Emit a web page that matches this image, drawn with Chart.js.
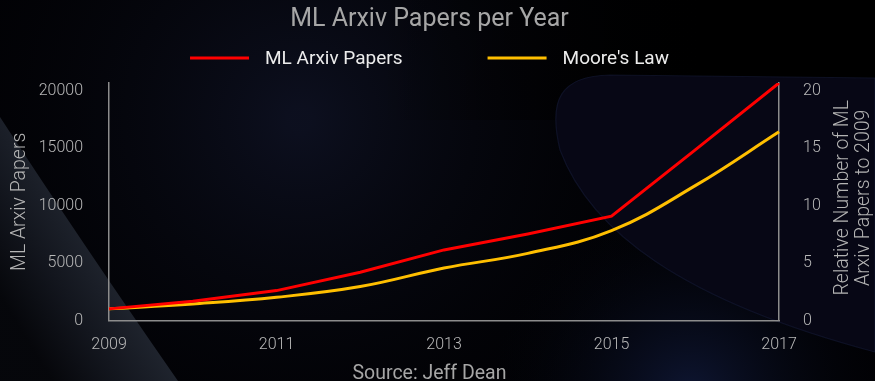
<!DOCTYPE html>
<html>
<head>
<meta charset="utf-8">
<script src="https://cdn.jsdelivr.net/npm/chart.js@4.4.1/dist/chart.umd.min.js"></script>
<style>
	html, body { margin: 0; padding: 0; background: #000; }
	#wrap { width: 875px; height: 381px; }
</style>
</head>
<body>
<div id="wrap"><canvas id="chart" width="875" height="381"></canvas></div>
<script>
// values
const years = ['2009', '2010', '2011', '2012', '2013', '2014', '2015', '2016', '2017'];
const ml_papers = [1020, 1680, 2610, 4200, 6150, 7540, 9090, 14850, 20670];
const moores_law = [1.02, 1.45, 2.03, 2.96, 4.57, 5.85, 7.83, 11.74, 16.43];
const left_ticks = [0, 5000, 10000, 15000, 20000];
const right_ticks = [0, 5, 10, 15, 20];

const FONT = 'Roboto, "Liberation Sans", sans-serif';
const RED = '#ff0000';
const GOLD = '#ffbf00';
const AXIS = '#8c8c8c';
const PAD_RIGHT = 16;
// the plot runs up to the top of the papers line, both axes share it
const top_papers = Math.max(...ml_papers);

const background = {
	id: 'background',
	beforeDraw (chart) {
		let ctx = chart.ctx;
		let w = chart.width, h = chart.height;
		ctx.save();
		ctx.fillStyle = '#010104';
		ctx.fillRect(0, 0, w, h);
		// navy haze on the left half
		let g = ctx.createRadialGradient(300, 120, 10, 300, 120, 430);
		g.addColorStop(0, 'rgba(13,16,32,0.95)');
		g.addColorStop(1, 'rgba(0,0,0,0)');
		ctx.fillStyle = g;
		ctx.fillRect(0, 0, w, h);
		// black top right
		g = ctx.createLinearGradient(380, 0, 700, 0);
		g.addColorStop(0, 'rgba(0,0,0,0)');
		g.addColorStop(1, 'rgba(0,0,0,1)');
		ctx.fillStyle = g;
		ctx.fillRect(380, 0, 495, 120);
		// blue glow under the plot on the right
		g = ctx.createRadialGradient(690, 395, 10, 690, 395, 220);
		g.addColorStop(0, 'rgba(18,28,64,0.7)');
		g.addColorStop(1, 'rgba(0,0,0,0)');
		ctx.fillStyle = g;
		ctx.fillRect(0, 0, w, h);
		// darker wedge bottom left, lit along its edge
		ctx.beginPath();
		ctx.moveTo(0, 117);
		ctx.quadraticCurveTo(80, 240, 178, 381);
		ctx.lineTo(0, 381);
		ctx.closePath();
		g = ctx.createLinearGradient(105, 265, 15, 320);
		g.addColorStop(0, 'rgba(32,37,47,0.95)');
		g.addColorStop(0.5, 'rgba(19,22,30,0.95)');
		g.addColorStop(1, 'rgba(6,7,11,0.95)');
		ctx.fillStyle = g;
		ctx.fill();
		// big rounded shape on the right
		ctx.beginPath();
		ctx.moveTo(875, 78);
		ctx.lineTo(610, 75);
		ctx.bezierCurveTo(560, 76, 548, 100, 560, 150);
		ctx.bezierCurveTo(590, 230, 680, 300, 875, 352);
		ctx.closePath();
		ctx.fillStyle = 'rgba(7,7,22,0.97)';
		ctx.fill();
		ctx.strokeStyle = 'rgba(24,30,60,0.5)';
		ctx.lineWidth = 1.2;
		ctx.stroke();
		ctx.restore();
	}
};

// legend drawn by hand so the gap between the two entries can be wide
const line_legend = {
	id: 'line_legend',
	afterDraw (chart) {
		let ctx = chart.ctx;
		let y = 58;
		ctx.save();
		ctx.font = '400 19px ' + FONT;
		ctx.textBaseline = 'middle';
		ctx.textAlign = 'left';
		let items = chart.data.datasets.map(ds => ({
			text: ds.label,
			color: ds.borderColor,
			width: 59 + 16 + ctx.measureText(ds.label).width
		}));
		let total = items.reduce((s, it) => s + it.width, 0) + 85 * (items.length - 1);
		let x = (chart.width - PAD_RIGHT) / 2 - total / 2;
		items.forEach(it => {
			ctx.fillStyle = it.color;
			ctx.fillRect(x, y - 1.5, 59, 3);
			ctx.fillStyle = '#ececec';
			ctx.fillText(it.text, x + 75, y + 1);
			x += it.width + 85;
		});
		ctx.restore();
	}
};

const right_title = {
	id: 'right_title',
	afterDraw (chart) {
		let ctx = chart.ctx;
		let area = chart.chartArea;
		let cy = (area.top + area.bottom) / 2 - 4;
		ctx.save();
		ctx.fillStyle = '#b4b4b4';
		ctx.font = '300 19.5px ' + FONT;
		ctx.textAlign = 'center';
		ctx.textBaseline = 'middle';
		[['Relative Number of ML', 843], ['Arxiv Papers to 2009', 864]].forEach(([text, x]) => {
			ctx.save();
			ctx.translate(x, cy);
			ctx.rotate(-Math.PI / 2);
			ctx.fillText(text, 0, 0);
			ctx.restore();
		});
		ctx.restore();
	}
};

const tick_font = { family: FONT, size: 16, weight: 300 };

new Chart(document.getElementById('chart'), {
	type: 'line',
	data: {
		labels: years,
		datasets: [
			{
				label: 'ML Arxiv Papers',
				data: ml_papers,
				borderColor: RED,
				backgroundColor: RED,
				borderWidth: 3,
				pointRadius: 0,
				tension: 0,
				yAxisID: 'y'
			},
			{
				label: "Moore's Law",
				data: moores_law,
				borderColor: GOLD,
				backgroundColor: GOLD,
				borderWidth: 3,
				pointRadius: 0,
				tension: 0.4,
				yAxisID: 'y1'
			}
		]
	},
	options: {
		responsive: false,
		animation: false,
		layout: { padding: { left: 0, right: PAD_RIGHT, top: 0, bottom: 0 } },
		plugins: {
			title: {
				display: true,
				text: 'ML Arxiv Papers per Year',
				color: '#a6a6a6',
				font: { family: FONT, size: 25, weight: 400 },
				padding: { top: 5, bottom: 48 }
			},
			subtitle: {
				display: true,
				position: 'bottom',
				text: 'Source: Jeff Dean',
				color: '#a6a6a6',
				font: { family: FONT, size: 19.5, weight: 400 },
				padding: { top: 0, bottom: -5 }
			},
			legend: { display: false },
			tooltip: { enabled: false }
		},
		scales: {
			x: {
				afterFit: s => { s.height = 42; },
				grid: { display: false },
				border: { display: true, color: AXIS, width: 1.5 },
				ticks: {
					color: '#b8b8b8',
					font: tick_font,
					padding: 7,
					autoSkip: false,
					maxRotation: 0,
					callback: (v, i) => (i % 2 === 0 ? years[i] : '')
				}
			},
			y: {
				position: 'left',
				min: 0,
				max: top_papers,
				afterBuildTicks: s => { s.ticks = left_ticks.map(v => ({ value: v })); },
				afterFit: s => { s.width = 109; },
				grid: { display: false },
				border: { display: true, color: AXIS, width: 1.5 },
				ticks: {
					color: '#b8b8b8',
					font: tick_font,
					padding: 18,
					callback: v => String(v)
				},
				title: {
					display: true,
					text: 'ML Arxiv Papers',
					color: '#b4b4b4',
					font: { family: FONT, size: 19.5, weight: 300 },
					padding: { top: 8 }
				}
			},
			y1: {
				position: 'right',
				min: 0,
				max: top_papers / 1000,
				afterBuildTicks: s => { s.ticks = right_ticks.map(v => ({ value: v })); },
				afterFit: s => { s.width = 80; },
				grid: { display: false },
				border: { display: true, color: AXIS, width: 1.5 },
				ticks: {
					color: '#b8b8b8',
					font: tick_font,
					padding: 16,
					callback: v => String(v)
				}
			}
		}
	},
	plugins: [background, line_legend, right_title]
});
</script>
</body>
</html>
